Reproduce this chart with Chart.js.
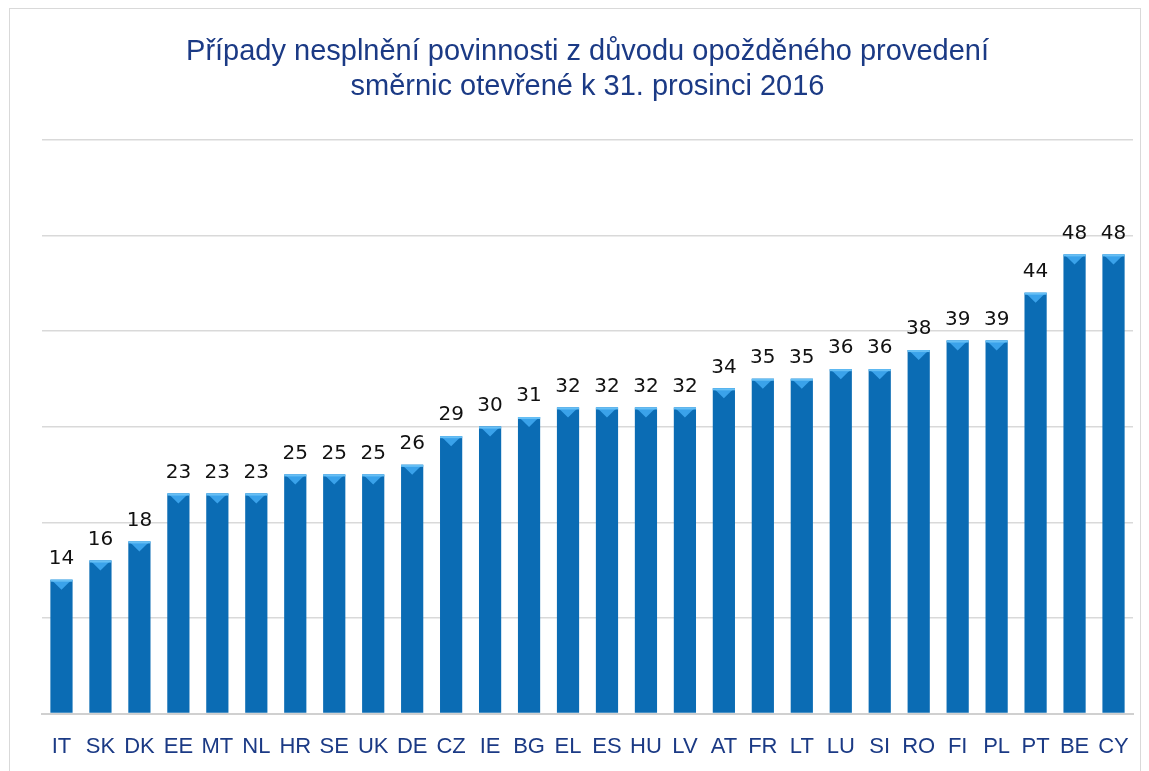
<!DOCTYPE html>
<html>
<head>
<meta charset="utf-8">
<script src="https://cdn.jsdelivr.net/npm/chart.js@4"></script>
<style>
    html, body { margin: 0; padding: 0; background: #fff; }
    #wrap { position: relative; width: 1149px; height: 771px; }
    #frame { position: absolute; left: 9px; top: 8px; width: 1132px; height: 770px; border: 1px solid #d9d9d9; box-sizing: border-box; }
    canvas { position: absolute; left: 0; top: 0; }
</style>
</head>
<body>
<div id="wrap">
    <div id="frame"></div>
    <canvas id="chart" width="1149" height="771"></canvas>
</div>
<script>
// 国コードと件数
const countries = ['IT', 'SK', 'DK', 'EE', 'MT', 'NL', 'HR', 'SE', 'UK', 'DE', 'CZ', 'IE', 'BG', 'EL',
    'ES', 'HU', 'LV', 'AT', 'FR', 'LT', 'LU', 'SI', 'RO', 'FI', 'PL', 'PT', 'BE', 'CY'];
const cases = [14, 16, 18, 23, 23, 23, 25, 25, 25, 26, 29, 30, 31, 32,
    32, 32, 32, 34, 35, 35, 36, 36, 38, 39, 39, 44, 48, 48];
const titleLines = ['Případy nesplnění povinnosti z důvodu opožděného provedení', 'směrnic otevřené k 31. prosinci 2016'];

/**
 * 棒の横方向グラデーション
 */
function barFill(context) {
    const bar = context.element;
    const chart = context.chart;
    if (!bar || bar.width === undefined || isNaN(bar.x)) return '#0b6cb4';
    const left = bar.x - bar.width / 2;
    const g = chart.ctx.createLinearGradient(left, 0, left + bar.width, 0);
    g.addColorStop(0, '#08508c');
    g.addColorStop(0.15, '#0b6cb5');
    g.addColorStop(0.65, '#0b6cb5');
    g.addColorStop(1, '#07396a');
    return g;
}

// 上面のベベルと値ラベル
const barDecor = {
    id: 'barDecor',
    afterDatasetsDraw(chart) {
        const ctx = chart.ctx;
        const meta = chart.getDatasetMeta(0);
        ctx.save();
        meta.data.forEach((bar, i) => {
            const left = bar.x - bar.width / 2;
            const right = bar.x + bar.width / 2;
            const top = bar.y;
            const bevel = 10;
            ctx.fillStyle = '#3aa2ea';
            ctx.beginPath();
            ctx.moveTo(left, top);
            ctx.lineTo(right, top);
            ctx.lineTo(right - 4, top + 3);
            ctx.lineTo(bar.x, top + bevel);
            ctx.lineTo(left + 4, top + 3);
            ctx.closePath();
            ctx.fill();
            ctx.fillStyle = '#66bff5';
            ctx.fillRect(left, top, bar.width, 2);

            ctx.fillStyle = '#111';
            ctx.font = '20px "DejaVu Sans"';
            ctx.textAlign = 'center';
            ctx.textBaseline = 'bottom';
            ctx.fillText(cases[i], bar.x, top - 11);
        });
        ctx.restore();
    }
};

new Chart(document.getElementById('chart'), {
    type: 'bar',
    data: {
        labels: countries,
        datasets: [{
            data: cases,
            backgroundColor: barFill,
            borderWidth: 0,
            barPercentage: 0.57,
            categoryPercentage: 1.0
        }]
    },
    options: {
        responsive: false,
        animation: false,
        layout: { padding: { left: 42, right: 16, top: 8, bottom: -1 } },
        plugins: {
            legend: { display: false },
            tooltip: { enabled: false },
            title: {
                display: true,
                text: titleLines,
                color: '#1b3a85',
                font: { family: '"Liberation Sans", Arial', size: 29, weight: 'normal', lineHeight: 1.2 },
                padding: { top: 27, bottom: 35 }
            }
        },
        scales: {
            x: {
                grid: { display: false },
                border: { display: true, color: '#d0d0d0', width: 2 },
                ticks: {
                    color: '#1b3a85',
                    font: { family: '"Liberation Sans", Arial', size: 22 },
                    padding: 12,
                    maxRotation: 0,
                    autoSkip: false
                }
            },
            y: {
                min: 0,
                max: 60,
                ticks: { display: false, stepSize: 10 },
                border: { display: false },
                grid: { color: '#d9d9d9', lineWidth: 1.5, drawTicks: false }
            }
        }
    },
    plugins: [barDecor]
});
</script>
</body>
</html>
